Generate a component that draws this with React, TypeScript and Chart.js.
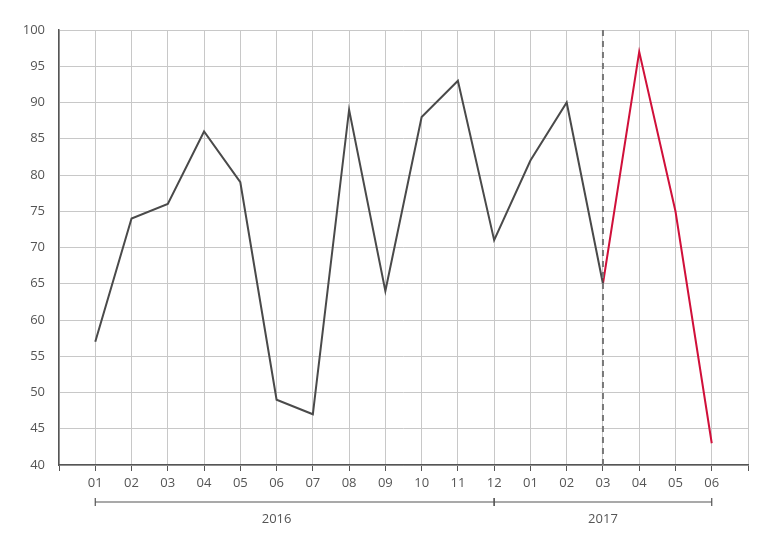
import React, { useEffect, useRef } from 'react';
import { Chart, ChartConfiguration, Plugin, registerables } from 'chart.js';

Chart.register(...registerables);

// month labels along the x axis, positions 1..18
const months = ['01', '02', '03', '04', '05', '06', '07', '08', '09', '10', '11', '12', '01', '02', '03', '04', '05', '06'];
// actual values 2016-01 .. 2017-03
const actualValues = [57, 74, 76, 86, 79, 49, 47, 89, 64, 88, 93, 71, 82, 90, 65];
// forecast values 2017-03 .. 2017-06
const forecastValues = [65, 97, 75, 43];
const years = ['2016', '2017'];
const yearSpans = [
  [1, 12],
  [12, 18],
];
const yearLabelAt = [6, 15];

const TEXT = '#555555';
const GRID = '#c8c8c8';
const FONT = "'Open Sans', 'Noto Sans', sans-serif";

const forecastStart = actualValues.length; // position of the dashed divider

const yearBrackets: Plugin = {
  id: 'yearBrackets',
  afterDraw(chart) {
    const { ctx } = chart;
    const x = chart.scales.x;
    const lineY = chart.chartArea.bottom + 37;
    ctx.save();
    ctx.strokeStyle = TEXT;
    ctx.lineWidth = 1.2;
    yearSpans.forEach(([from, to]) => {
      const x0 = x.getPixelForValue(from);
      const x1 = x.getPixelForValue(to);
      ctx.beginPath();
      ctx.moveTo(x0, lineY);
      ctx.lineTo(x1, lineY);
      ctx.moveTo(x0, lineY - 4);
      ctx.lineTo(x0, lineY + 4);
      ctx.moveTo(x1, lineY - 4);
      ctx.lineTo(x1, lineY + 4);
      ctx.stroke();
    });
    ctx.fillStyle = TEXT;
    ctx.font = `13px ${FONT}`;
    ctx.textAlign = 'center';
    ctx.textBaseline = 'middle';
    years.forEach((year, i) => {
      ctx.fillText(year, x.getPixelForValue(yearLabelAt[i]), lineY + 17);
    });
    ctx.restore();
  },
};

const App: React.FC = () => {
  const chartRef = useRef<HTMLCanvasElement | null>(null);
  const chartInstance = useRef<Chart | null>(null);

  useEffect(() => {
    document.body.style.margin = '0';
    if (chartRef.current) {
      const ctx = chartRef.current.getContext('2d');

      if (ctx) {
        if (chartInstance.current) {
          chartInstance.current.destroy();
        }

        const config: ChartConfiguration = {
          type: 'line',
          data: {
            datasets: [
              {
                label: 'divider',
                data: [
                  { x: forecastStart, y: 40 },
                  { x: forecastStart, y: 100 },
                ],
                borderColor: '#777777',
                borderWidth: 2,
                borderDash: [6, 5],
                pointRadius: 0,
              },
              {
                label: 'actual',
                data: actualValues.map((v, i) => ({ x: i + 1, y: v })),
                borderColor: '#4a4a4a',
                borderWidth: 2,
                pointRadius: 0,
                tension: 0,
              },
              {
                label: 'forecast',
                data: forecastValues.map((v, i) => ({ x: forecastStart + i, y: v })),
                borderColor: '#d0103a',
                borderWidth: 2,
                pointRadius: 0,
                tension: 0,
              },
            ],
          },
          options: {
            animation: false,
            responsive: true,
            maintainAspectRatio: false,
            layout: {
              padding: { left: 0, right: 33, top: 30, bottom: 0 },
            },
            scales: {
              x: {
                type: 'linear',
                min: 0,
                max: months.length + 1,
                afterFit: (scale) => {
                  scale.height = 88;
                },
                border: { color: TEXT, width: 1.5 },
                grid: {
                  color: GRID,
                  tickColor: TEXT,
                  tickLength: 6,
                  lineWidth: 1,
                },
                ticks: {
                  stepSize: 1,
                  autoSkip: false,
                  maxRotation: 0,
                  padding: 4,
                  color: TEXT,
                  font: { family: FONT, size: 13 },
                  callback: (value) => months[Number(value) - 1] ?? '',
                },
              },
              y: {
                min: 40,
                max: 100,
                afterFit: (scale) => {
                  scale.width = 59;
                },
                border: { color: TEXT, width: 1.5 },
                grid: {
                  color: GRID,
                  drawTicks: false,
                  lineWidth: 1,
                },
                ticks: {
                  stepSize: 5,
                  padding: 14,
                  color: TEXT,
                  font: { family: FONT, size: 13 },
                },
              },
            },
            plugins: {
              legend: { display: false },
              tooltip: { enabled: false },
            },
          },
          plugins: [yearBrackets],
        };

        chartInstance.current = new Chart(ctx, config);
      }
    }

    return () => {
      if (chartInstance.current) {
        chartInstance.current.destroy();
        chartInstance.current = null;
      }
    };
  }, []);

  return (
    <div style={{ width: 781, height: 553, position: 'relative', background: '#fff' }}>
      <canvas ref={chartRef} />
    </div>
  );
};

export default App;
